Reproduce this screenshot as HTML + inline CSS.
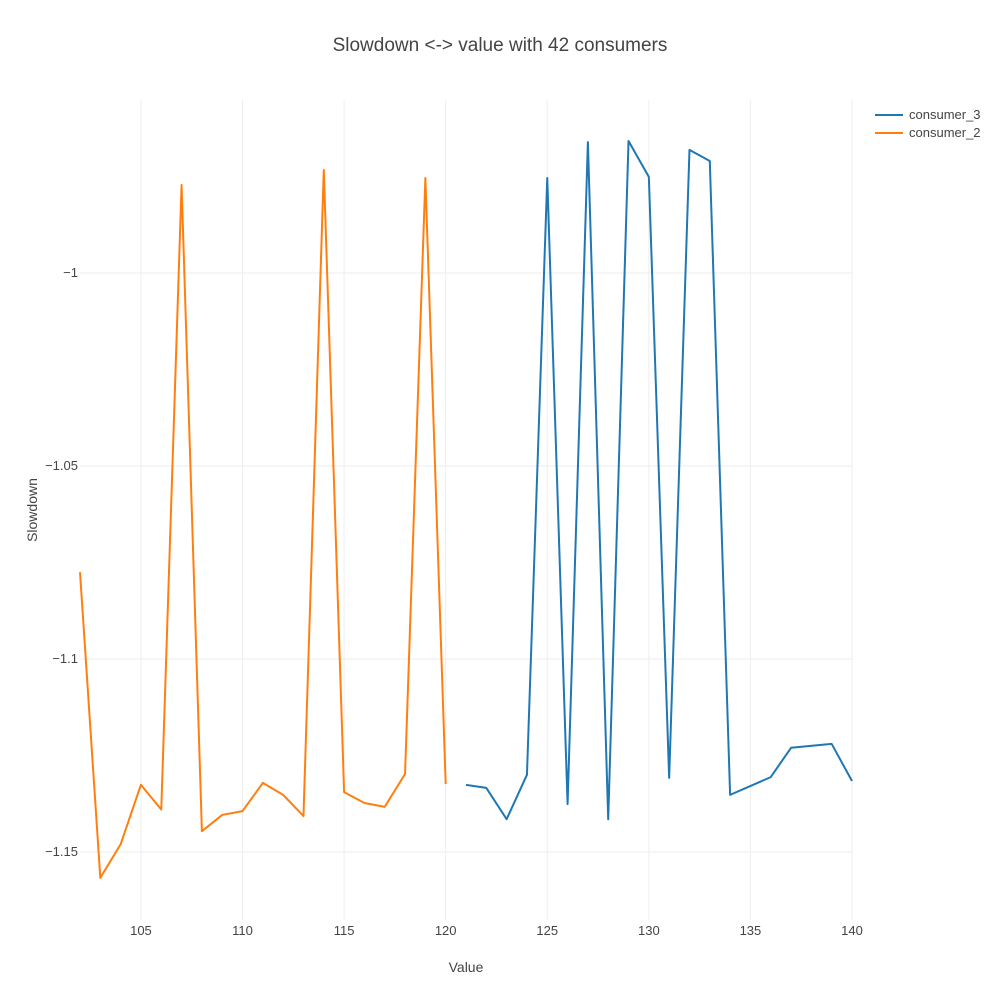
<!DOCTYPE html>
<html><head><meta charset="utf-8"><style>
body{margin:0;background:#fff;font-family:"Liberation Sans",sans-serif;}
svg text{font-family:"Liberation Sans",sans-serif;fill:#444;}
</style></head><body>
<svg id="chart" width="1000" height="1000">
<text x="500" y="51" text-anchor="middle" font-size="19">Slowdown &lt;-&gt; value with 42 consumers</text>
<g id="grid"></g><g id="ticks"></g><g id="lines"></g>
<text x="466" y="972" text-anchor="middle" font-size="14">Value</text>
<text x="37" y="510" text-anchor="middle" font-size="14" transform="rotate(-90 37 510)">Slowdown</text>
<g>
<g><line x1="875" y1="115" x2="903" y2="115" stroke="#1f77b4" stroke-width="2"/><text x="909" y="119" font-size="13">consumer_3</text></g>
<g><line x1="875" y1="133" x2="903" y2="133" stroke="#ff7f0e" stroke-width="2"/><text x="909" y="137" font-size="13">consumer_2</text></g>
</g>
</svg>
<script>
const x2 = [102,103,104,105,106,107,108,109,110,111,112,113,114,115,116,117,118,119,120];
const y2 = [-1.0775,-1.1567,-1.148,-1.1326,-1.139,-0.9772,-1.1446,-1.1404,-1.1394,-1.1321,-1.1352,-1.1407,-0.9733,-1.1345,-1.1373,-1.1383,-1.1298,-0.9754,-1.1324];
const x3 = [121,122,123,124,125,126,127,128,129,130,131,132,133,134,136,137,139,140];
const y3 = [-1.1326,-1.1334,-1.1415,-1.130,-0.9754,-1.1376,-0.9661,-1.1415,-0.9658,-0.9751,-1.1308,-0.9681,-0.9710,-1.1352,-1.1306,-1.123,-1.122,-1.1316];
const xTicks = [105,110,115,120,125,130,135,140];
const yTicks = [-1,-1.05,-1.1,-1.15];
const yTickLabels = ["−1","−1.05","−1.1","−1.15"];
const NS="http://www.w3.org/2000/svg";
const L=80,R=852,T=100,B=920;
const sx=v=>L+(v-102)*(R-L)/38;
const sy=v=>273-(v+1)*3860;
function mk(tag,attrs,parent){const e=document.createElementNS(NS,tag);for(const k in attrs)e.setAttribute(k,attrs[k]);document.getElementById(parent).appendChild(e);return e;}
xTicks.forEach(t=>{
 const g=mk('line',{x1:sx(t),x2:sx(t),y1:T,y2:B,stroke:'#eee','stroke-width':1},'grid');
 
 
 const tx=mk('text',{x:sx(t),y:B+15,'text-anchor':'middle','font-size':13},'ticks');tx.textContent=t;
 
 
});
yTicks.forEach((t,i)=>{
 const g=mk('line',{x1:L,x2:R,y1:sy(t),y2:sy(t),stroke:'#eee','stroke-width':1},'grid');
 
 
 const tx=mk('text',{x:L-2,y:sy(t)+4,'text-anchor':'end','font-size':13},'ticks');tx.textContent=yTickLabels[i];
 
 
});
function line(xs,ys,c,name){
 const p=mk('polyline',{points:xs.map((x,i)=>sx(x)+','+sy(ys[i])).join(' '),fill:'none',stroke:c,'stroke-width':2,'stroke-linejoin':'round'},'lines');
 
 
}
line(x2,y2,'#ff7f0e','consumer-2-line');
line(x3,y3,'#1f77b4','consumer-3-line');
</script>
</body></html>
